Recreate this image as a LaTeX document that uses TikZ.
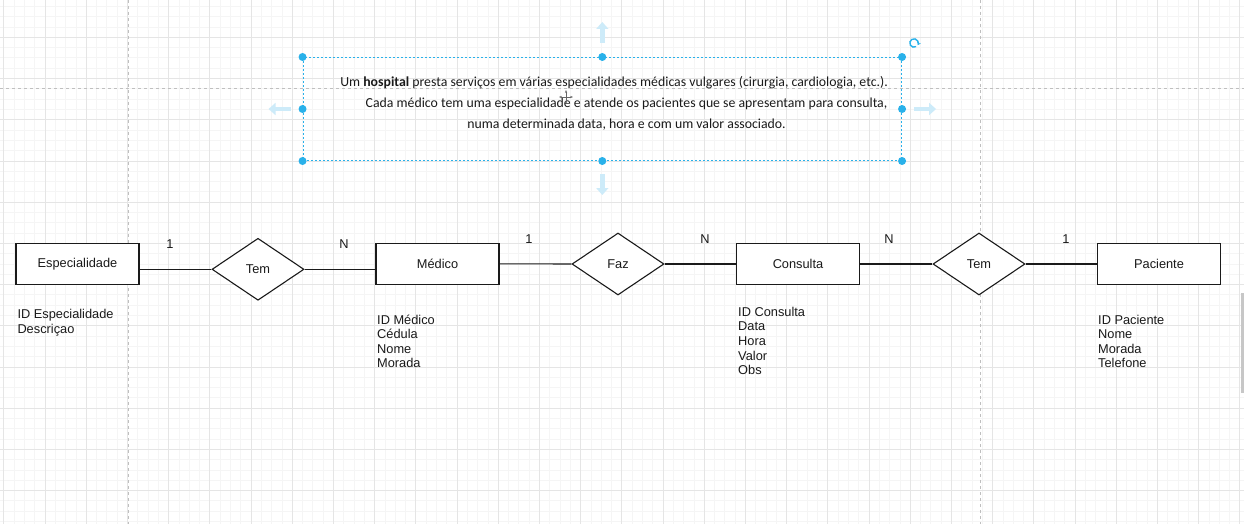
\documentclass[tikz,border=0pt]{standalone}
\usepackage{fontspec}
\setmainfont{Liberation Sans}
\newfontfamily\calibri{Carlito}
\usetikzlibrary{shapes,arrows.meta,positioning,calc}
\definecolor{selblue}{HTML}{29B1EA}
\definecolor{hintblue}{HTML}{CDEBF9}
\definecolor{ink}{HTML}{1A1A1A}

\begin{document}
\begin{tikzpicture}
[x=1pt,y=-1pt,
every node/.style={font=\fontsize{12.8}{14.7}\selectfont,text=ink},
entity/.style={draw=ink,fill=white,line width=1.1pt,minimum width=123pt,minimum height=41pt,inner sep=0pt},
relation/.style={draw=ink,fill=white,line width=1.1pt,diamond,minimum width=92pt,minimum height=62pt,inner sep=0pt},
attr/.style={anchor=base west,inner sep=0pt},
card/.style={inner sep=0pt},
link/.style={draw=ink,line width=1.1pt},
minorgrid/.style={draw=black!4,line width=0.8pt},
majorgrid/.style={draw=black!10,line width=0.8pt},
pageline/.style={draw=black!25,dash pattern=on 3pt off 3pt,line width=0.9pt},
selbox/.style={draw=selblue,dash pattern=on 2pt off 2pt,line width=1pt,minimum width=598.5pt,minimum height=103pt,inner sep=0pt},
handle/.style={circle,fill=selblue,inner sep=0pt,minimum size=8pt},
hint/.style={draw=hintblue,line width=4.5pt,-{Triangle[length=7pt,width=12pt]}},
desc/.style={anchor=base,inner sep=0pt,font=\calibri\fontsize{13.8}{21}\selectfont}]
%%
\useasboundingbox (0,0) rectangle (1244,524);
\fill[white] (0,0) rectangle (1244,524);
%% grid
\foreach \k in {0,...,121} \draw[minorgrid] ({3.8+10.3*\k},0) -- ({3.8+10.3*\k},524);
\foreach \k in {-3,...,47} \draw[minorgrid] (0,{37.3+10.3*\k}) -- (1244,{37.3+10.3*\k});
\foreach \k in {0,...,30} \draw[majorgrid] ({3.8+41.2*\k},0) -- ({3.8+41.2*\k},524);
\foreach \k in {-1,...,11} \draw[majorgrid] (0,{37.3+41.2*\k}) -- (1244,{37.3+41.2*\k});
\draw[pageline] (128.7,0) -- (128.7,524);
\draw[pageline] (980.5,0) -- (980.5,524);
\draw[pageline] (0,88.3) -- (1244,88.3);
\fill[black!22] (1240.5,293) rectangle (1244,393);
%%
%% entities and relations
\node[entity] (Especialidade) at (77.5,263.8) {Especialidade};
\node[relation] (Tem1) at (258,269.3) {Tem};
\node[entity] (Medico) at (437.5,263.8) {Médico};
\node[relation] (Faz) at (618,264) {Faz};
\node[entity] (Consulta) at (798,264) {Consulta};
\node[relation] (Tem2) at (979,264) {Tem};
\node[entity] (Paciente) at (1159,264) {Paciente};
%%
\draw[link] (Tem1.west) -- (Tem1.west -| Especialidade.east);
\draw[link] (Tem1.east) -- (Tem1.east -| Medico.west);
\draw[link] (Medico.east) -- (Faz.west);
\draw[link] (Faz.east) -- (Consulta.west);
\draw[link] (Consulta.east) -- (Tem2.west);
\draw[link] (Tem2.east) -- (Paciente.west);
%%
%% cardinalities
\node[card] (c1) at (170,244) {1};
\node[card] (c2) at (344,244) {N};
\node[card] (c3) at (529,239) {1};
\node[card] (c4) at (705,239) {N};
\node[card] (c5) at (889,239) {N};
\node[card] (c6) at (1066,239) {1};
%%
%% attributes
\foreach \t [count=\i] in {ID Especialidade, Descriçao}
  \node[attr] (aEsp\i) at (17.3,{318.3+14.7*(\i-1)}) {\t};
\foreach \t [count=\i] in {ID Médico, Cédula, Nome, Morada}
  \node[attr] (aMed\i) at (377,{324+14.6*(\i-1)}) {\t};
\foreach \t [count=\i] in {ID Consulta, Data, Hora, Valor, Obs}
  \node[attr] (aCon\i) at (738,{316+14.7*(\i-1)}) {\t};
\foreach \t [count=\i] in {ID Paciente, Nome, Morada, Telefone}
  \node[attr] (aPac\i) at (1098,{324+14.6*(\i-1)}) {\t};
%%
%% description text with its selection frame
\node[selbox] (sel) at (602.3,109) {};
\node[desc] (desc1) at (614,86.7) {Um \textbf{hospital} presta serviços em várias especialidades médicas vulgares (cirurgia, cardiologia, etc.).};
\node[desc] (desc2) at (626.5,107.5) {Cada médico tem uma especialidade e atende os pacientes que se apresentam para consulta,};
\node[desc] (desc3) at (626.5,128.3) {numa determinada data, hora e com um valor associado.};
\foreach \a in {north west,north,north east,west,east,south west,south,south east}
  \node[handle] (h-\a) at (sel.\a) {};
\draw[hint] ($(sel.north)+(0,-14)$) -- ++(0,-21);
\draw[hint] ($(sel.south)+(0,13)$) -- ++(0,21);
\draw[hint] ($(sel.west)+(-12,0)$) -- ++(-22,0);
\draw[hint] ($(sel.east)+(12,0)$) -- ++(22,0);
\draw[selblue,line width=1.4pt,-{Stealth[length=3pt,width=4pt]}] (914,43) ++(60:4.2) arc[start angle=60,end angle=390,radius=4.2];
%% move cursor
\begin{scope}[shift={(566,97)},black!60,line width=0.9pt]
\draw[-{Stealth[length=3pt]}] (0,0) -- (0,-7);
\draw[-{Stealth[length=3pt]}] (0,0) -- (0,7);
\draw[-{Stealth[length=3pt]}] (0,0) -- (-7,0);
\draw[-{Stealth[length=3pt]}] (0,0) -- (7,0);
\end{scope}
\end{tikzpicture}
\end{document}
